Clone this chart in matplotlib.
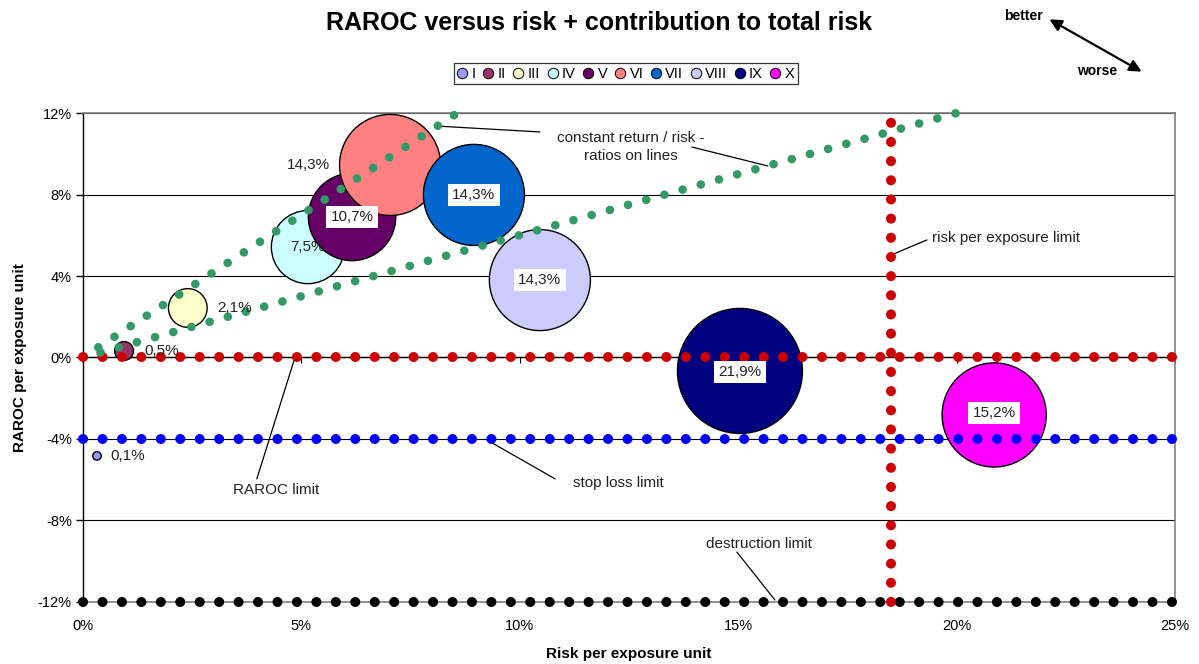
import matplotlib

matplotlib.use("Agg")

import matplotlib.pyplot as plt
from matplotlib.lines import Line2D
from matplotlib.ticker import FuncFormatter

plt.rcParams['font.family'] = ['Liberation Sans', 'DejaVu Sans']

# ======================
# DATA (all values in %)
# ======================

names = ['I', 'II', 'III', 'IV', 'V', 'VI', 'VII', 'VIII', 'IX', 'X']
risk = [0.32, 0.94, 2.40, 5.15, 6.16, 7.03, 8.95, 10.46, 15.04, 20.86]
raroc = [-4.83, 0.32, 2.43, 5.42, 6.90, 9.45, 7.98, 3.80, -0.66, -2.82]
contrib = [0.1, 0.5, 2.1, 7.5, 10.7, 14.3, 14.3, 14.3, 21.9, 15.2]
colors = ['#9999FF', '#993366', '#FFFFCC', '#CCFFFF', '#660066',
          '#FF8080', '#0066CC', '#CCCCFF', '#000080', '#FF00FF']

# limit lines
raroc_limit = 0.0
stop_loss_limit = -4.0
destruction_limit = -12.0
risk_limit = 18.5
x_range = [0.0, 25.0]
y_range = [-12.0, 12.0]

# constant return / risk lines (end points)
ratio_hi_x = [0.35, 8.5]
ratio_hi_y = [0.5, 11.9]
ratio_lo_x = [0.4, 20.0]
ratio_lo_y = [0.25, 12.0]

# label placement per bubble: (dx px, dy px, ha, white box)
label_style = [
    (13, 0, 'left', False),
    (20, 0, 'left', False),
    (29, 0, 'left', False),
    (0, 0, 'center', False),
    (0, 0, 'center', True),
    (-60, 0, 'right', False),
    (0, 0, 'center', True),
    (0, 0, 'center', True),
    (0, -1, 'center', True),
    (0, 2, 'center', True),
]

RED = '#CC0000'
BLUE = '#0000FF'
GREEN = '#339966'


def dotted(ax, xs, ys, color, size, spacing, z=4):
    # round dots along a line, size and spacing in points
    ax.plot(xs, ys, color=color, lw=size,
            ls=(0, (0.01, spacing / size - 0.01)),
            dash_capstyle='round', solid_capstyle='round', zorder=z,
            clip_on=False)


fig = plt.figure(figsize=(11.99, 6.64), dpi=100)
ax = fig.add_axes([0.0692, 0.0934, 0.9108, 0.7364])

ax.set_xlim(x_range)
ax.set_ylim(y_range)

# ======================
# BUBBLES
# ======================

sizes = [370 * c for c in contrib]
ax.scatter(risk, raroc, s=sizes, c=colors, edgecolors='black',
           linewidths=1.0, zorder=3)

# ======================
# LIMIT LINES
# ======================

dotted(ax, x_range, [raroc_limit] * 2, RED, 7.2, 14.0)
dotted(ax, x_range, [stop_loss_limit] * 2, BLUE, 7.2, 14.0)
dotted(ax, x_range, [destruction_limit] * 2, 'black', 7.2, 14.0)
dotted(ax, [risk_limit] * 2, y_range, RED, 7.2, 13.8, z=5)
dotted(ax, ratio_hi_x, ratio_hi_y, GREEN, 6.2, 13.9)
dotted(ax, ratio_lo_x, ratio_lo_y, GREEN, 6.2, 13.6)

# ======================
# BUBBLE LABELS
# ======================

for i in range(len(names)):
    dx, dy, ha, boxed = label_style[i]
    txt = f"{contrib[i]:.1f}%".replace('.', ',')
    bbox = dict(facecolor='white', edgecolor='none', pad=3) if boxed else None
    ax.annotate(txt, xy=(risk[i], raroc[i]), xytext=(dx, dy),
                textcoords='offset pixels', ha=ha, va='center',
                fontsize=11, color='#222222', bbox=bbox, zorder=6)

# ======================
# TEXT ANNOTATIONS
# ======================

line_kw = dict(arrowstyle='-', lw=0.9, color='black', shrinkA=0, shrinkB=0)
txt_kw = dict(fontsize=11, color='#222222', ha='center', va='center', zorder=7)

ax.text(12.55, 10.33, "constant return / risk -\nratios on lines",
        linespacing=1.3, **txt_kw)
ax.annotate('', xy=(8.10, 11.36), xytext=(10.46, 11.07), arrowprops=line_kw)
ax.annotate('', xy=(15.68, 9.40), xytext=(13.94, 10.33), arrowprops=line_kw)

ax.text(19.44, 5.87, "risk per exposure limit", fontsize=11,
        color='#222222', ha='left', va='center')
ax.annotate('', xy=(18.5, 5.03), xytext=(19.32, 5.77), arrowprops=line_kw)

ax.text(4.42, -6.5, "RAROC limit", **txt_kw)
ax.annotate('', xy=(4.85, -0.02), xytext=(3.98, -5.96), arrowprops=line_kw)

ax.text(12.25, -6.16, "stop loss limit", **txt_kw)
ax.annotate('', xy=(9.25, -4.05), xytext=(10.81, -5.96), arrowprops=line_kw)

ax.text(15.48, -9.15, "destruction limit", **txt_kw)
ax.annotate('', xy=(15.84, -11.9), xytext=(14.97, -9.55), arrowprops=line_kw)

# ======================
# AXES
# ======================

pct = FuncFormatter(lambda v, p: f"{v:.0f}%")

ax.set_xticks(range(0, 26, 5))
ax.xaxis.set_major_formatter(pct)
ax.tick_params(axis='x', length=0, pad=12, labelsize=10.5)

ax.set_yticks(range(-12, 13, 4))
ax.yaxis.set_major_formatter(pct)
ax.tick_params(axis='y', direction='out', length=5, width=1,
               labelsize=10.5, pad=3)

ax.set_axisbelow(True)
ax.yaxis.grid(True, color='black', lw=0.8)

for side in ['top', 'right', 'bottom']:
    ax.spines[side].set_color('#808080')
    ax.spines[side].set_linewidth(1.2)
ax.spines['left'].set_color('black')
ax.spines['left'].set_linewidth(1.0)

# x axis line crossing at RAROC = 0
sec = ax.secondary_xaxis(0.5)
sec.set_xticks(range(0, 26, 5))
sec.xaxis.set_ticks_position('bottom')
sec.tick_params(axis='x', direction='out', length=4, bottom=True, top=False,
                labelbottom=False, labeltop=False)
for side in ['top', 'bottom']:
    sec.spines[side].set_color('black')
    sec.spines[side].set_linewidth(1.0)

ax.set_xlabel("Risk per exposure unit", fontsize=11, fontweight='bold',
              labelpad=10)
ax.set_ylabel("RAROC per exposure unit", fontsize=11, fontweight='bold',
              labelpad=8)

fig.suptitle("RAROC versus risk + contribution to total risk", x=0.5,
             y=0.984, fontsize=18, fontweight='bold', va='top')

# ======================
# LEGEND
# ======================

handles = [Line2D([], [], ls='none', marker='o', markersize=7.5,
                  markerfacecolor=c, markeredgecolor='black',
                  markeredgewidth=0.7) for c in colors]
leg = fig.legend(handles, names, loc='center', ncol=10,
                 bbox_to_anchor=(0.522, 0.889), fontsize=10.5,
                 handlelength=0.7, handletextpad=0.3, columnspacing=0.5,
                 borderpad=0.25, fancybox=False, frameon=True)
leg.get_frame().set_edgecolor('black')
leg.get_frame().set_linewidth(0.9)

# ======================
# BETTER / WORSE ARROW
# ======================

fig.patches.append(matplotlib.patches.FancyArrowPatch(
    (1047 / 1199, 1 - 18 / 664), (1144 / 1199, 1 - 73 / 664),
    transform=fig.transFigure, arrowstyle='<|-|>', mutation_scale=18,
    lw=1.6, color='black'))
fig.text(1043 / 1199, 1 - 16 / 664, "better", fontsize=10, fontweight='bold',
         ha='right', va='center')
fig.text(1117 / 1199, 1 - 71 / 664, "worse", fontsize=10, fontweight='bold',
         ha='right', va='center')

fig.savefig("out.png", dpi=100)
